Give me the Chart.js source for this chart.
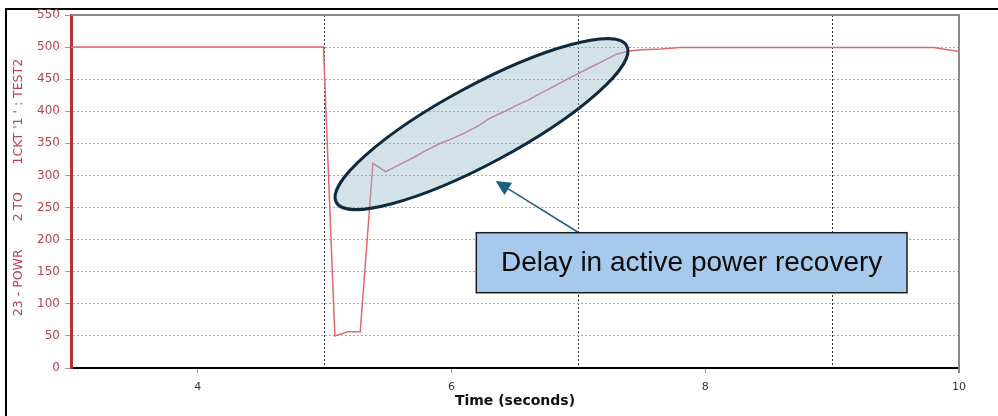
<!DOCTYPE html>
<html>
<head>
<meta charset="utf-8">
<script src="https://cdn.jsdelivr.net/npm/chart.js@4.4.1/dist/chart.umd.min.js"></script>
<style>
  html, body { margin: 0; padding: 0; background: #ffffff; }
  #wrap { width: 998px; height: 416px; }
</style>
</head>
<body>
<div id="wrap"><canvas id="chart" width="998" height="416"></canvas></div>
<script>
// Active power at the monitored branch (MW) against simulation time (s)
const timeSeconds = [3.0, 4.99, 5.08, 5.18, 5.28, 5.38, 5.48, 5.6, 5.7, 5.8, 5.9, 6.0, 6.1, 6.2, 6.3,
  6.4, 6.5, 6.6, 6.7, 6.8, 6.9, 7.0, 7.1, 7.2, 7.3, 7.4, 7.5, 7.65, 7.8, 9.8, 10.0];
const activePowerMW = [500, 500, 50, 56.5, 56.5, 319, 306, 318, 328, 339, 349, 357, 366, 376, 389,
  398, 408, 417, 428, 438, 449, 459, 469, 479, 489, 494, 496, 497, 499.5, 499.5, 493];

// Axis ticks
const yTicks = [0, 50, 100, 150, 200, 250, 300, 350, 400, 450, 500, 550];
const xTicks = [3, 4, 5, 6, 7, 8, 9, 10];
const xLabelledTicks = [4, 6, 8, 10];
const xMarkerLines = [5, 7, 9];

const yAxisTitle = "  23 - POWR       2 TO       1CKT '1 ' : TEST2";
const xAxisTitle = 'Time (seconds)';

// Callout: highlighted recovery ramp, arrow and note box (in data units)
const highlightCenter = { x: 6.236, y: 380 };
const arrowTip = { x: 6.347, y: 291.4 };
const arrowTail = { x: 6.994, y: 211.9 };
const calloutBox = { xMin: 6.195, xMax: 9.59, yMin: 117.3, yMax: 210.8 };
const calloutText = 'Delay in active power recovery';

const RED_AXIS = '#b83434';
const RED_TEXT = '#b8404e';
const CLEAR = 'rgba(0,0,0,0)';

const decorations = {
  id: 'decorations',
  beforeDraw(chart) {
    const ctx = chart.ctx;
    ctx.save();
    ctx.fillStyle = '#ffffff';
    ctx.fillRect(0, 0, chart.width, chart.height);
    // outer frame (top and left edges)
    ctx.strokeStyle = '#000000';
    ctx.lineWidth = 2;
    ctx.beginPath();
    ctx.moveTo(5, 9);
    ctx.lineTo(chart.width, 9);
    ctx.moveTo(6, 8);
    ctx.lineTo(6, chart.height);
    ctx.stroke();
    ctx.restore();
  },
  beforeDatasetsDraw(chart) {
    const { ctx, chartArea: a } = chart;
    ctx.save();
    ctx.strokeStyle = '#8a8a8a';
    ctx.lineWidth = 2;
    ctx.beginPath();
    ctx.moveTo(a.left, a.top);
    ctx.lineTo(a.right + 1, a.top);
    ctx.moveTo(a.right, a.top);
    ctx.lineTo(a.right, a.bottom + 5);
    ctx.stroke();
    ctx.restore();
  },
  afterDatasetsDraw(chart) {
    const { ctx } = chart;
    const xs = chart.scales.x, ys = chart.scales.y;
    const cx = xs.getPixelForValue(highlightCenter.x);
    const cy = ys.getPixelForValue(highlightCenter.y);
    ctx.save();
    ctx.beginPath();
    ctx.ellipse(cx, cy, 165, 39, -28.3 * Math.PI / 180, 0, Math.PI * 2);
    ctx.fillStyle = 'rgba(150,183,200,0.42)';
    ctx.fill();
    ctx.lineWidth = 3;
    ctx.strokeStyle = '#0e2a3d';
    ctx.stroke();
    ctx.restore();
  },
  afterDraw(chart) {
    const { ctx } = chart;
    const xs = chart.scales.x, ys = chart.scales.y;
    // arrow
    const tx = xs.getPixelForValue(arrowTip.x), ty = ys.getPixelForValue(arrowTip.y);
    const sx = xs.getPixelForValue(arrowTail.x), sy = ys.getPixelForValue(arrowTail.y);
    const ang = Math.atan2(ty - sy, tx - sx);
    const headLen = 15, headHalf = 7.2;
    const bx = tx - headLen * Math.cos(ang), by = ty - headLen * Math.sin(ang);
    ctx.save();
    ctx.strokeStyle = '#1c5f85';
    ctx.fillStyle = '#1c5f85';
    ctx.lineWidth = 1.5;
    ctx.beginPath();
    ctx.moveTo(sx, sy);
    ctx.lineTo(bx, by);
    ctx.stroke();
    ctx.beginPath();
    ctx.moveTo(tx, ty);
    ctx.lineTo(bx + headHalf * Math.sin(ang), by - headHalf * Math.cos(ang));
    ctx.lineTo(bx - headHalf * Math.sin(ang), by + headHalf * Math.cos(ang));
    ctx.closePath();
    ctx.fill();
    // note box
    const l = xs.getPixelForValue(calloutBox.xMin), r = xs.getPixelForValue(calloutBox.xMax);
    const t = ys.getPixelForValue(calloutBox.yMax), b = ys.getPixelForValue(calloutBox.yMin);
    ctx.fillStyle = '#a7c9ec';
    ctx.fillRect(l, t, r - l, b - t);
    ctx.strokeStyle = '#1e1e1e';
    ctx.lineWidth = 1.5;
    ctx.strokeRect(l, t, r - l, b - t);
    ctx.fillStyle = '#0a0a0a';
    ctx.font = '28px "Liberation Sans", Arial, sans-serif';
    ctx.textAlign = 'center';
    ctx.textBaseline = 'alphabetic';
    ctx.fillText(calloutText, (l + r) / 2, (t + b) / 2 + 8);
    ctx.restore();
  }
};

new Chart(document.getElementById('chart'), {
  type: 'line',
  data: {
    datasets: [{
      data: timeSeconds.map((t, i) => ({ x: t, y: activePowerMW[i] })),
      borderColor: '#e06868',
      borderWidth: 1.5,
      pointRadius: 0,
      tension: 0,
      fill: false
    }]
  },
  options: {
    responsive: false,
    animation: false,
    devicePixelRatio: 1,
    layout: { padding: { top: 15, right: 39, left: 0, bottom: 0 } },
    plugins: { legend: { display: false }, tooltip: { enabled: false } },
    scales: {
      x: {
        type: 'linear',
        min: 3,
        max: 10,
        afterFit(scale) { scale.height = 48; },
        afterBuildTicks(scale) { scale.ticks = xTicks.map(v => ({ value: v })); },
        ticks: {
          autoSkip: false,
          maxRotation: 0,
          padding: 8,
          color: '#333333',
          font: { family: '"DejaVu Sans", Verdana, sans-serif', size: 11 },
          callback: v => (xLabelledTicks.includes(v) ? String(v) : '')
        },
        grid: {
          lineWidth: 1,
          tickLength: 5,
          color: c => (c.tick && xMarkerLines.includes(c.tick.value) ? '#333333' : CLEAR),
          tickColor: c => (c.tick && xLabelledTicks.includes(c.tick.value) ? '#9a9a9a' : CLEAR)
        },
        border: { display: true, color: '#000000', width: 2, dash: [2, 2] },
        title: {
          display: true,
          text: xAxisTitle,
          color: '#111111',
          font: { family: '"DejaVu Sans", Verdana, sans-serif', size: 14, weight: 'bold' },
          padding: { top: 0, bottom: 6 }
        }
      },
      y: {
        type: 'linear',
        min: 0,
        max: 550,
        afterFit(scale) { scale.width = 71; },
        afterBuildTicks(scale) { scale.ticks = yTicks.map(v => ({ value: v })); },
        ticks: {
          autoSkip: false,
          padding: 5,
          color: RED_TEXT,
          font: { family: '"DejaVu Sans", Verdana, sans-serif', size: 12 }
        },
        grid: {
          lineWidth: 1,
          tickLength: 6,
          color: c => (c.tick && (c.tick.value === 0 || c.tick.value === 550) ? CLEAR : '#a8a8a8'),
          tickColor: '#9a9a9a'
        },
        border: { display: true, color: RED_AXIS, width: 3, dash: [2, 2] },
        title: {
          display: true,
          text: yAxisTitle,
          color: RED_TEXT,
          font: { family: '"DejaVu Sans", Verdana, sans-serif', size: 12.5 },
          padding: { top: 11, bottom: 0 }
        }
      }
    }
  },
  plugins: [decorations]
});
</script>
</body>
</html>
